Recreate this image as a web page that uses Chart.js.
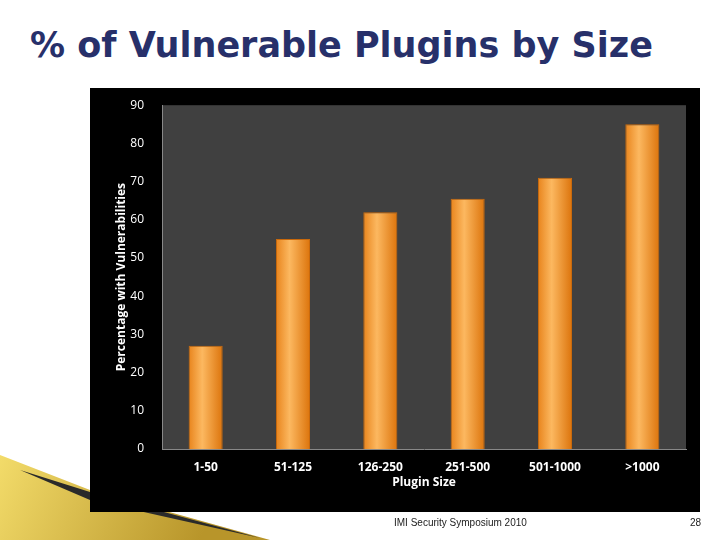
<!DOCTYPE html>
<html>
<head>
<meta charset="utf-8">
<script src="https://cdn.jsdelivr.net/npm/chart.js@4.4.0/dist/chart.umd.min.js"></script>
<style>
  body { margin: 0; width: 720px; height: 540px; background: #fff; position: relative; overflow: hidden; font-family: "DejaVu Sans", sans-serif; }
  #titulo { position: absolute; left: 30px; top: 25px; font-size: 35px; font-weight: bold; color: #27306a; white-space: nowrap; }
  #caixa { position: absolute; left: 90px; top: 88px; width: 610px; height: 424px; background: #000; }
  #rodape { position: absolute; left: 394px; top: 517px; font: 10px "Liberation Sans", sans-serif; color: #222; }
  #pagina { position: absolute; left: 690px; top: 517px; font: 10px "Liberation Sans", sans-serif; color: #222; }
  #enfeite { position: absolute; left: 0; top: 450px; }
</style>
</head>
<body>
<canvas id="enfeite" width="300" height="90"></canvas>
<div id="titulo">% of Vulnerable Plugins by Size</div>
<div id="caixa"><canvas id="grafico" width="610" height="424"></canvas></div>
<div id="rodape">IMI Security Symposium 2010</div>
<div id="pagina">28</div>
<script>
const categorias = ['1-50', '51-125', '126-250', '251-500', '501-1000', '>1000'];
const percentuais = [27, 55, 62, 65.5, 71, 85];
const ticksY = [0, 10, 20, 30, 40, 50, 60, 70, 80, 90];

// enfeite dourado no canto inferior esquerdo
const e = document.getElementById('enfeite').getContext('2d');
const g = e.createLinearGradient(0, 0, 200, 90);
g.addColorStop(0, '#f3dc6a'); g.addColorStop(1, '#b8952a');
e.fillStyle = g;
e.beginPath(); e.moveTo(0, 5); e.lineTo(90, 40); e.lineTo(270, 90); e.lineTo(0, 90); e.closePath(); e.fill();
e.fillStyle = '#2a2a2a';
e.beginPath(); e.moveTo(20, 20); e.lineTo(90, 42); e.lineTo(260, 88); e.lineTo(90, 50); e.closePath(); e.fill();

const fundoPlot = {
  id: 'fundoPlot',
  beforeDraw(chart) {
    const { ctx, chartArea: a } = chart;
    ctx.save();
    ctx.fillStyle = '#404040';
    ctx.fillRect(a.left, a.top, a.right - a.left, a.bottom - a.top);
    ctx.restore();
  }
};

function corBarra(context) {
  const chart = context.chart;
  const { ctx, chartArea } = chart;
  const sx = chart.scales.x;
  if (!chartArea || !sx || context.dataIndex === undefined) return '#f08a1c';
  const largura = (chartArea.right - chartArea.left) / categorias.length * 0.39;
  const x0 = sx.getPixelForValue(context.dataIndex) - largura / 2;
  const grad = ctx.createLinearGradient(x0, 0, x0 + largura, 0);
  grad.addColorStop(0, '#e8841c');
  grad.addColorStop(0.4, '#fcb860');
  grad.addColorStop(1, '#dc740c');
  return grad;
}

new Chart(document.getElementById('grafico'), {
  type: 'bar',
  data: {
    labels: categorias,
    datasets: [{
      data: percentuais,
      backgroundColor: corBarra,
      borderColor: '#c8690c',
      borderWidth: 1,
      barPercentage: 0.39,
      categoryPercentage: 1
    }]
  },
  options: {
    responsive: false,
    animation: false,
    layout: { padding: { left: 20, right: 14, top: 15, bottom: 18 } },
    plugins: { legend: { display: false }, tooltip: { enabled: false } },
    scales: {
      x: {
        grid: { display: false },
        border: { color: '#888' },
        ticks: { color: '#fff', font: { family: 'Open Sans', size: 12, weight: 'bold' }, maxRotation: 0 },
        title: { display: true, text: 'Plugin Size', color: '#fff', font: { family: 'Open Sans', size: 12, weight: 'bold' }, padding: { top: 0 } },
        afterFit: s => { s.height = 45; }
      },
      y: {
        min: 0, max: 90,
        afterBuildTicks: s => { s.ticks = ticksY.map(v => ({ value: v })); },
        grid: { display: false },
        border: { color: '#888' },
        ticks: { color: '#fff', font: { family: 'Open Sans', size: 12 }, padding: 10 },
        title: { display: true, text: 'Percentage with Vulnerabilities', color: '#fff', font: { family: 'Open Sans', size: 12, weight: 'bold' } },
        afterFit: s => { s.width = 52; }
      }
    }
  },
  plugins: [fundoPlot]
});
</script>
</body>
</html>
